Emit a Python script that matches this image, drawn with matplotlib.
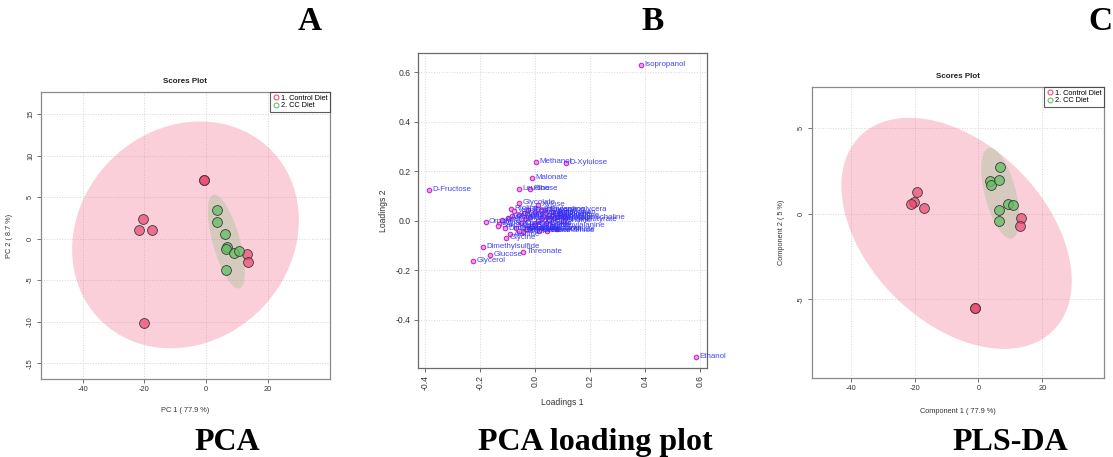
import numpy as np
import matplotlib
matplotlib.use("Agg")
import matplotlib.pyplot as plt
from matplotlib.lines import Line2D

plt.rcParams['font.family'] = ['Liberation Sans', 'DejaVu Sans']
plt.rcParams['axes.unicode_minus'] = False

# ---------------- data ----------------
# Panel A: PCA scores
pca_ctrl_x = [-0.6, -0.6, -20.4, -21.7, -17.5, -20.1, 13.3, 13.6]
pca_ctrl_y = [7.0, 7.0, 2.4, 1.0, 1.0, -10.2, -1.9, -2.8]
pca_cc_x = [3.6, 3.6, 6.2, 6.7, 6.5, 9.1, 10.7, 6.5]
pca_cc_y = [3.5, 2.0, 0.6, -1.0, -1.2, -1.7, -1.5, -3.8]
pca_ctrl_ell = [-6.65, 0.45, 36.75, 13.65, 65.0]   # cx, cy, sd_x, sd_y, cov
pca_cc_ell = [6.6, -0.35, 6.0, 5.65, -22.0]

# Panel C: PLS-DA scores
pls_ctrl_x = [-19.3, -20.2, -21.2, -17.1, 13.4, 13.1, -1.2, -1.2]
pls_ctrl_y = [1.29, 0.70, 0.58, 0.35, -0.23, -0.70, -5.5, -5.5]
pls_cc_x = [6.8, 3.7, 4.0, 6.5, 9.3, 10.9, 6.5, 6.5]
pls_cc_y = [2.7, 1.9, 1.7, 1.95, 0.57, 0.5, 0.19, -0.45]
pls_ctrl_ell = [-6.85, -1.15, 36.05, 6.75, -100.0]
pls_cc_ell = [6.85, 1.2, 5.95, 2.65, -8.5]

# Panel B: PCA loadings
load_names = ["Isopropanol", "Methanol", "D-Xylulose", "Malonate", "D-Fructose",
              "Leucine", "Ribose", "Glycolate", "Xylose", "Proline", "Ornithine",
              "Dimethylsulfide", "Glucose", "Threonate", "Glycerol", "Glycine",
              "Ethanol", "3-Phosphoglycera", "Acetylglutama", "Alanine",
              "Acetate", "Asparagine", "Aspartate", "Betaine", "Choline", "Citrate",
              "Creatine", "Creatinine", "Formate", "Fumarate", "Glutamate",
              "Glutamine", "Histidine", "Isoleucine", "Lactate", "Lysine",
              "Methionine", "Phenylalanine", "Pyruvate", "Succinate", "Taurine",
              "Tyrosine", "Valine", "Uracil", "Urea", "Trimethylamine",
              "3-Hydroxybutyrate", "Carnitine", "Dimethylamine", "Ethanolamine",
              "Hypoxanthine", "myo-Inositol", "Tryptophan", "Uridine", "Xanthine",
              "Niacinamide", "Sarcosine", "O-Phosphocholine"]
load_x = [0.385, 0.004, 0.113, -0.011, -0.385,
          -0.058, -0.018, -0.058, 0.011, -0.087, -0.180,
          -0.189, -0.164, -0.044, -0.225, -0.105,
          0.585, 0.020, -0.020, -0.090,
          -0.120, -0.130, -0.100, -0.085, -0.070, -0.060,
          -0.050, -0.040, -0.030, -0.020, -0.010,
          0.000, 0.010, 0.020, 0.030, 0.040,
          0.050, 0.060, 0.070, 0.080, 0.090,
          0.035, -0.075, -0.045, 0.015, -0.025,
          0.050, 0.000, -0.110, -0.060,
          0.025, -0.035, 0.065, 0.100, 0.110,
          0.045, -0.135, 0.080]
load_y = [0.629, 0.238, 0.234, 0.173, 0.125,
          0.129, 0.130, 0.073, 0.065, 0.048, -0.003,
          -0.105, -0.137, -0.125, -0.161, -0.068,
          -0.548, 0.045, -0.030, -0.055,
          0.005, -0.012, 0.012, 0.020, -0.030, 0.025,
          -0.010, 0.030, -0.035, 0.015, -0.020,
          0.035, 0.000, -0.030, 0.020, -0.010,
          0.025, -0.020, 0.010, -0.035, 0.030,
          0.042, 0.040, -0.045, -0.040, 0.045,
          0.005, -0.015, -0.030, -0.040,
          0.012, 0.008, 0.035, 0.000, 0.020,
          -0.040, -0.020, 0.015]

# ---------------- style ----------------
W, H = 1113, 457
fig = plt.figure(figsize=(W / 100, H / 100), dpi=100)

def px_axes(l, r, t, b):
    return fig.add_axes([l / W, (H - b) / H, (r - l) / W, (b - t) / H])

PINK_PT = (0.92, 0.27, 0.43, 0.70)
GREEN_PT = (0.39, 0.75, 0.39, 0.75)
PINK_ELL = (0.94, 0.42, 0.55, 0.32)
GREEN_ELL = (0.58, 0.75, 0.54, 0.35)
SMALL = 5.3

def ellipse(ax, p, color):
    cx, cy, sx, sy, cxy = p
    L = np.linalg.cholesky(np.array([[sx ** 2, cxy], [cxy, sy ** 2]]))
    t = np.linspace(0, 2 * np.pi, 200)
    pts = L @ np.vstack([np.cos(t), np.sin(t)])
    ax.fill(cx + pts[0], cy + pts[1], color=color, lw=0, zorder=1)

def style(ax, spine_col='#8a8a8a'):
    for s in ax.spines.values():
        s.set_color(spine_col)
        s.set_linewidth(0.9)
    ax.grid(True, color='#d6d6d6', linestyle=':', linewidth=0.7, zorder=0)
    ax.set_axisbelow(True)
    ax.tick_params(length=3, width=0.7, color='#707070', labelsize=SMALL,
                   labelcolor='#333333', pad=2)

def scores(ax, cx, cy, gx, gy, e1, e2):
    ellipse(ax, e1, PINK_ELL)
    ellipse(ax, e2, GREEN_ELL)
    ax.scatter(cx, cy, s=50, c=[PINK_PT], edgecolors='#3a3a3a', linewidths=0.6, zorder=3)
    ax.scatter(gx, gy, s=50, c=[GREEN_PT], edgecolors='#3a3a3a', linewidths=0.6, zorder=3)
    handles = [Line2D([], [], ls='', marker='o', mfc='none', mec='#f0507a', ms=3.5, mew=0.8,
                      label='1. Control Diet'),
               Line2D([], [], ls='', marker='o', mfc='none', mec='#6cc06c', ms=3.5, mew=0.8,
                      label='2. CC Diet')]
    leg = ax.legend(handles=handles, loc='upper right', borderaxespad=0, fontsize=SMALL,
                    frameon=True, fancybox=False, handlelength=0.8, handletextpad=0.3,
                    labelspacing=0.05, borderpad=0.35)
    leg.get_frame().set_edgecolor('#333333')
    leg.get_frame().set_linewidth(0.8)
    leg.set_zorder(5)
    ax.set_title('Scores Plot', fontsize=5.8, fontweight='bold', color='#222222',
                 y=1.035, pad=0, va='center')
    for lab in ax.get_yticklabels():
        lab.set_rotation(90)
        lab.set_va('center')

# ---------------- Panel A ----------------
axA = px_axes(41, 330, 92, 379)
style(axA)
axA.set_xlim(-53.5, 40.2)
axA.set_ylim(-16.9, 17.65)
axA.set_xticks([-40, -20, 0, 20])
axA.set_yticks([-15, -10, -5, 0, 5, 10, 15])
scores(axA, pca_ctrl_x, pca_ctrl_y, pca_cc_x, pca_cc_y, pca_ctrl_ell, pca_cc_ell)
axA.set_xlabel('PC 1 ( 77.9 %)', fontsize=SMALL, color='#333333')
axA.set_ylabel('PC 2 ( 8.7 %)', fontsize=SMALL, color='#333333')
axA.xaxis.set_label_coords(0.5, -0.098)
axA.yaxis.set_label_coords(-0.097, 0.5)

# ---------------- Panel C ----------------
axC = px_axes(812, 1104, 87, 378)
style(axC)
axC.set_xlim(-52.1, 39.3)
axC.set_ylim(-9.6, 7.4)
axC.set_xticks([-40, -20, 0, 20])
axC.set_yticks([-5, 0, 5])
scores(axC, pls_ctrl_x, pls_ctrl_y, pls_cc_x, pls_cc_y, pls_ctrl_ell, pls_cc_ell)
axC.set_xlabel('Component 1 ( 77.9 %)', fontsize=SMALL, color='#333333')
axC.set_ylabel('Component 2 ( 5 %)', fontsize=SMALL, color='#333333')
axC.xaxis.set_label_coords(0.5, -0.103)
axC.yaxis.set_label_coords(-0.092, 0.5)

# ---------------- Panel B ----------------
axB = px_axes(418, 707, 53, 368)
style(axB, spine_col='#6a6a6a')
axB.set_xlim(-0.4255, 0.6255)
axB.set_ylim(-0.594, 0.677)
axB.set_xticks([-0.4, -0.2, 0.0, 0.2, 0.4, 0.6])
axB.set_yticks([-0.4, -0.2, 0.0, 0.2, 0.4, 0.6])
axB.set_xticklabels(['-0.4', '-0.2', '0.0', '0.2', '0.4', '0.6'], rotation=90)
axB.tick_params(labelsize=6.2)
axB.scatter(load_x, load_y, s=11, c=[(0.93, 0.6, 0.93)], edgecolors='#c020c0',
            linewidths=0.7, zorder=3)
for name, x, y in zip(load_names, load_x, load_y):
    axB.annotate(name, (x, y), xytext=(2.6, 0), textcoords='offset points',
                 fontsize=5.7, color=(0.18, 0.18, 0.97, 0.9), va='center', ha='left',
                 annotation_clip=False, clip_on=False, zorder=4)
axB.set_xlabel('Loadings 1', fontsize=6.2, color='#333333')
axB.set_ylabel('Loadings 2', fontsize=6.2, color='#333333')
axB.xaxis.set_label_coords(0.5, -0.095)
axB.yaxis.set_label_coords(-0.104, 0.5)

# ---------------- big labels ----------------
big = dict(family=['Liberation Serif', 'DejaVu Serif'], fontweight='bold', color='black')
fig.text(310 / W, (H - 30) / H, 'A', ha='center', va='baseline', fontsize=24, **big)
fig.text(653 / W, (H - 30) / H, 'B', ha='center', va='baseline', fontsize=24, **big)
fig.text(1100 / W, (H - 30) / H, 'C', ha='center', va='baseline', fontsize=24, **big)
fig.text(227 / W, (H - 450) / H, 'PCA', ha='center', va='baseline', fontsize=23, **big)
fig.text(595 / W, (H - 450) / H, 'PCA loading plot', ha='center', va='baseline', fontsize=23, **big)
fig.text(1010 / W, (H - 450) / H, 'PLS-DA', ha='center', va='baseline', fontsize=23, **big)

fig.savefig('out.png', dpi=100)
